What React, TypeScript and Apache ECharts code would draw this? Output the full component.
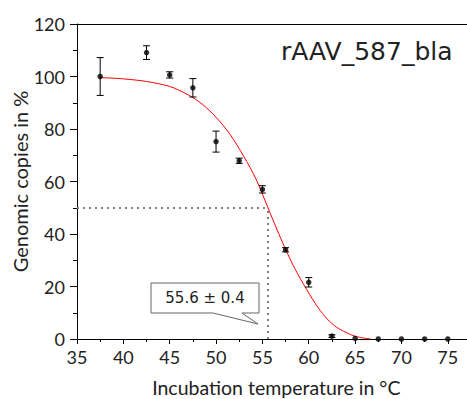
import React, { useEffect, useRef } from "react";
import * as echarts from "echarts";

const temps = [37.5, 42.5, 45, 47.5, 50, 52.5, 55, 57.5, 60, 62.5, 65, 67.5, 70, 72.5, 75];
const copies = [100, 109.1, 100.6, 95.7, 75.2, 67.9, 57.0, 34.0, 21.6, 1.1, 0.2, 0, 0, 0, 0];
const errors = [7.2, 2.6, 1.2, 3.5, 4.0, 1.0, 1.4, 0.8, 1.8, 0.5, 0, 0, 0, 0, 0];

const fitX = [37.5, 40, 42.5, 45, 47, 48.5, 50, 51.5, 53, 54.3, 55.6, 56.5, 57.5, 58.5, 59.8, 61, 62, 63, 64.5, 65.5, 66.7];
const fitY = [99.6, 99.1, 98.1, 96.2, 93.0, 89.5, 84.5, 78.0, 69.5, 61.0, 50.0, 42.3, 34.2, 26.8, 18.7, 12.0, 7.6, 4.5, 1.7, 0.6, 0];

const xTicks = { min: 35, max: 78, interval: 5 };
const yTicks = { min: 0, max: 120, interval: 20 };
const midpoint = 55.6;
const midLevel = 50;
const title = "rAAV_587_bla";
const midLabel = "55.6 ± 0.4";
const xName = "Incubation temperature in °C";
const yName = "Genomic copies in %";

const FONT = "Lato";

export default function App() {
  const ref = useRef<HTMLDivElement>(null);
  useEffect(() => {
    if (!ref.current) return;
    const chart = echarts.init(ref.current, undefined, { renderer: "svg" });
    const points = temps.map((t, i) => [t, copies[i]]);
    const errData = temps.map((t, i) => [t, copies[i], errors[i]]);
    const fit = fitX.map((x, i) => [x, fitY[i]]);
    chart.setOption({
      animation: false,
      backgroundColor: "#fff",
      grid: { left: 77, top: 24, width: 398.6, bottom: 60, containLabel: false, outerBoundsMode: "none" },
      xAxis: [
        {
          type: "value",
          min: xTicks.min,
          max: xTicks.max,
          interval: xTicks.interval,
          name: xName,
          nameLocation: "middle",
          nameGap: 38,
          nameMoveOverlap: false,
          nameTextStyle: { fontFamily: FONT, fontSize: 19.5, color: "#222" },
          axisLine: { onZero: false, lineStyle: { color: "#000", width: 1 } },
          axisTick: { show: true, inside: false, length: 5, lineStyle: { color: "#000" } },
          minorTick: { show: true, splitNumber: 2, length: 3, lineStyle: { color: "#000" } },
          axisLabel: { fontFamily: FONT, fontSize: 18, color: "#222", margin: 9, showMaxLabel: false },
          splitLine: { show: false },
        },
        {
          type: "value",
          position: "top",
          min: xTicks.min,
          max: xTicks.max,
          axisLine: { show: true, onZero: false, lineStyle: { color: "#000", width: 1 } },
          axisTick: { show: false },
          axisLabel: { show: false },
          splitLine: { show: false },
        },
      ],
      yAxis: {
        type: "value",
        min: yTicks.min,
        max: yTicks.max,
        interval: yTicks.interval,
        name: yName,
        nameLocation: "middle",
        nameGap: 47,
        nameMoveOverlap: false,
        nameTextStyle: { fontFamily: FONT, fontSize: 20, color: "#222" },
        axisLine: { show: true, lineStyle: { color: "#000", width: 1 } },
        axisTick: { show: true, length: 7, lineStyle: { color: "#000" } },
        minorTick: { show: true, splitNumber: 2, length: 4, lineStyle: { color: "#000" } },
        axisLabel: { fontFamily: FONT, fontSize: 18, color: "#222", margin: 12 },
        splitLine: { show: false },
      },
      series: [
        {
          type: "line",
          data: fit,
          smooth: 0.3,
          symbol: "none",
          lineStyle: { color: "#ff0000", width: 1 },
          z: 2,
          markLine: {
            silent: true,
            symbol: "none",
            label: { show: false },
            lineStyle: { color: "#808080", width: 2, type: [2, 4] },
            data: [
              [{ coord: [xTicks.min, midLevel] }, { coord: [midpoint, midLevel] }],
              [{ coord: [midpoint, 0] }, { coord: [midpoint, midLevel] }],
            ],
          },
        },
        {
          type: "custom",
          data: errData,
          z: 3,
          renderItem: (params: any, api: any) => {
            const x = api.value(0);
            const y = api.value(1);
            const e = api.value(2);
            if (!e) return { type: "group", children: [] };
            const top = api.coord([x, y + e]);
            const bot = api.coord([x, y - e]);
            const w = 3.5;
            const style = { stroke: "#000", lineWidth: 1 };
            return {
              type: "group",
              children: [
                { type: "line", shape: { x1: top[0], y1: top[1], x2: bot[0], y2: bot[1] }, style },
                { type: "line", shape: { x1: top[0] - w, y1: top[1], x2: top[0] + w, y2: top[1] }, style },
                { type: "line", shape: { x1: bot[0] - w, y1: bot[1], x2: bot[0] + w, y2: bot[1] }, style },
              ],
            };
          },
        },
        {
          type: "scatter",
          data: points,
          symbol: "circle",
          symbolSize: 5.5,
          itemStyle: { color: "#000" },
          clip: false,
          z: 4,
        },
      ],
      graphic: [
        {
          type: "text",
          left: 281,
          top: 39,
          style: { text: title, fontFamily: "DejaVu Sans", fontSize: 25, fill: "#222" },
        },
        {
          type: "polygon",
          shape: {
            points: [
              [151, 283],
              [259, 283],
              [259, 313],
              [242, 313],
              [258, 324],
              [213, 313],
              [151, 313],
            ],
          },
          style: { fill: "#fff", stroke: "#666", lineWidth: 1 },
          z: 10,
        },
        {
          type: "text",
          x: 205,
          y: 298,
          style: {
            text: midLabel,
            fontFamily: "DejaVu Sans",
            fontSize: 15,
            fill: "#222",
            align: "center",
            verticalAlign: "middle",
          },
          z: 11,
        },
      ],
    });
    return () => chart.dispose();
  }, []);
  return <div ref={ref} style={{ position: "absolute", left: 0, top: 0, width: 467, height: 399 }} />;
}
